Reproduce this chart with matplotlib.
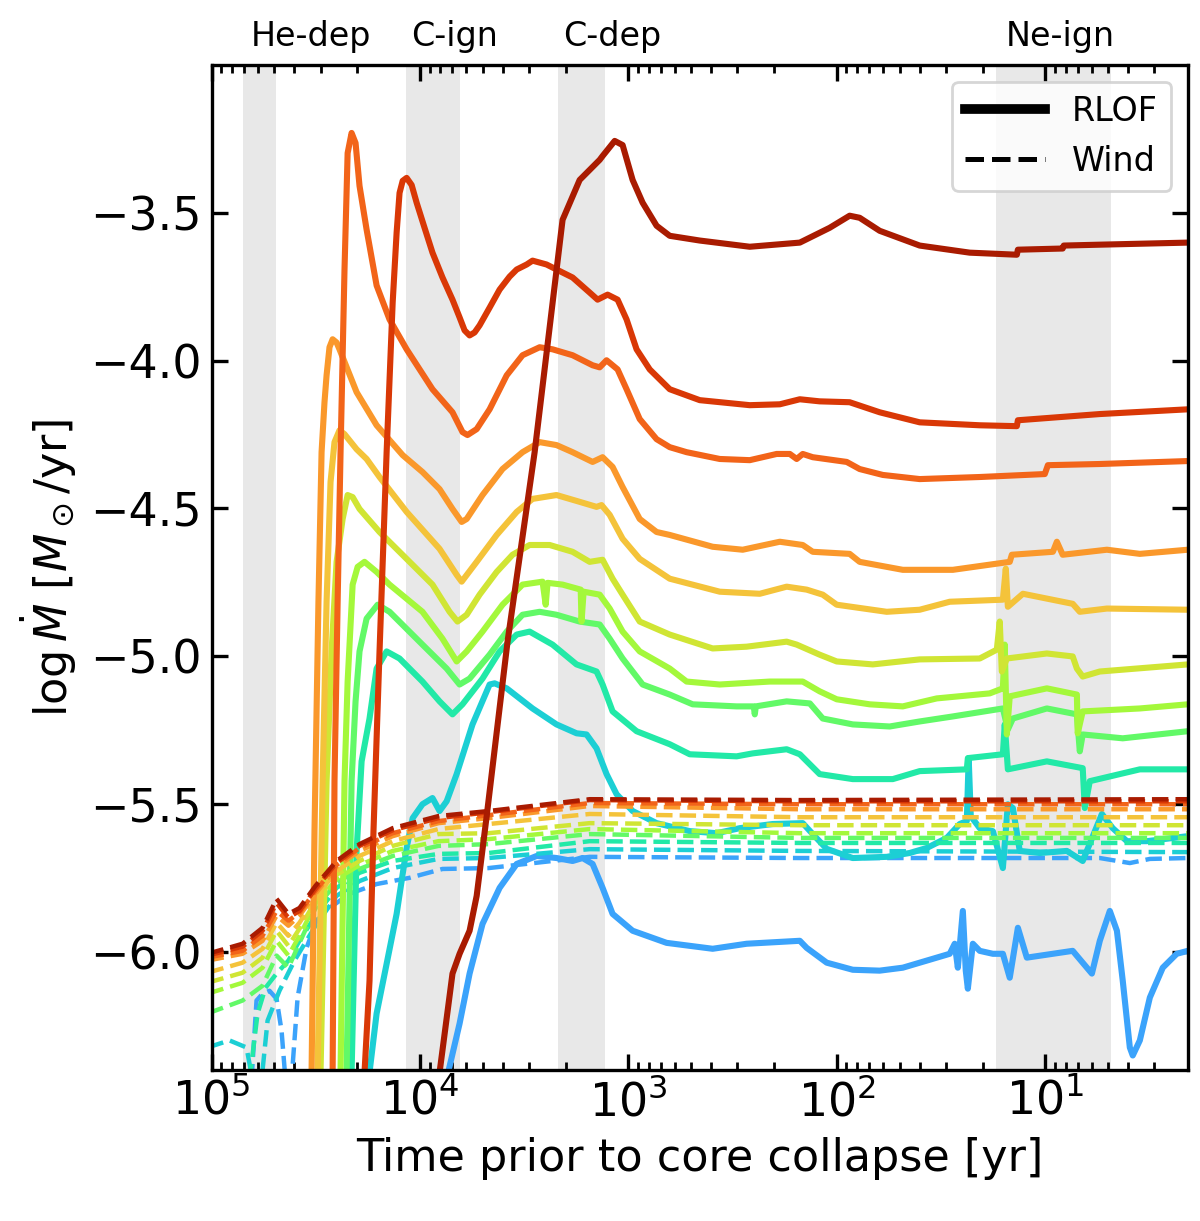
import matplotlib as mpl
mpl.use('Agg')  # headless
import matplotlib.pyplot as plt
from matplotlib.lines import Line2D
import numpy as np

# log10(time before collapse / yr) and log10(Mdot) for each model, blue (1) -> dark red (11)
# RLOF (solid)
lt_r1 = [3.868, 3.810, 3.762, 3.700, 3.618, 3.536, 3.440, 3.345, 3.268, 3.220, 3.172, 3.124, 3.076, 2.980,
         2.817, 2.596, 2.433, 2.178, 2.145, 2.049, 1.924, 1.795, 1.684, 1.569, 1.459, 1.435, 1.420, 1.396,
         1.382, 1.372, 1.348, 1.315, 1.252, 1.204, 1.171, 1.132, 1.089, 0.869, 0.777, 0.739, 0.691, 0.657,
         0.629, 0.595, 0.581, 0.547, 0.499, 0.437, 0.370, 0.317]
lm_r1 = [-6.418, -6.243, -6.074, -5.906, -5.784, -5.703, -5.676, -5.683, -5.693, -5.683, -5.703, -5.784,
         -5.872, -5.929, -5.970, -5.990, -5.973, -5.963, -5.987, -6.037, -6.061, -6.064, -6.054, -6.030,
         -6.007, -5.973, -6.054, -5.862, -6.064, -6.125, -5.973, -5.997, -6.007, -6.007, -6.088, -5.919,
         -6.020, -5.997, -6.074, -5.963, -5.862, -5.929, -6.098, -6.324, -6.351, -6.300, -6.155, -6.054,
         -6.007, -5.997]

lt_r2 = [4.242, 4.208, 4.160, 4.112, 4.064, 4.035, 3.988, 3.940, 3.906, 3.872, 3.824, 3.748, 3.666, 3.642,
         3.584, 3.460, 3.345, 3.249, 3.201, 3.153, 3.105, 3.057, 2.980, 2.865, 2.706, 2.577, 2.466, 2.308,
         2.164, 2.116, 2.049, 1.924, 1.761, 1.651, 1.569, 1.473, 1.411, 1.377, 1.368, 1.358, 1.315, 1.252,
         1.204, 1.180, 1.156, 1.123, 1.027, 0.897, 0.821, 0.729, 0.677, 0.609, 0.513, 0.317]
lm_r2 = [-6.408, -6.209, -6.041, -5.872, -5.649, -5.548, -5.501, -5.480, -5.524, -5.491, -5.399, -5.231,
         -5.096, -5.092, -5.109, -5.177, -5.231, -5.261, -5.265, -5.312, -5.399, -5.467, -5.524, -5.565,
         -5.592, -5.599, -5.582, -5.568, -5.565, -5.602, -5.652, -5.683, -5.679, -5.666, -5.649, -5.615,
         -5.568, -5.558, -5.345, -5.541, -5.582, -5.592, -5.717, -5.501, -5.514, -5.659, -5.666, -5.659,
         -5.693, -5.534, -5.582, -5.626, -5.626, -5.609]

lt_r3 = [4.328, 4.304, 4.280, 4.242, 4.208, 4.160, 4.098, 3.988, 3.906, 3.844, 3.796, 3.700, 3.618, 3.536,
         3.474, 3.364, 3.249, 3.153, 3.124, 3.076, 2.961, 2.802, 2.706, 2.481, 2.404, 2.241, 2.178, 2.083,
         1.924, 1.732, 1.603, 1.377, 1.372, 1.204, 1.195, 1.180, 0.993, 0.821, 0.811, 0.787, 0.547, 0.317]
lm_r3 = [-6.408, -5.659, -5.356, -5.211, -5.042, -4.984, -5.008, -5.086, -5.153, -5.197, -5.163, -5.076,
         -4.984, -4.927, -4.917, -4.961, -5.028, -5.052, -5.096, -5.187, -5.254, -5.298, -5.332, -5.339,
         -5.329, -5.315, -5.332, -5.399, -5.416, -5.416, -5.389, -5.383, -5.345, -5.332, -5.231, -5.383,
         -5.356, -5.379, -5.514, -5.423, -5.383, -5.383]

lt_r4 = [4.352, 4.328, 4.309, 4.290, 4.256, 4.203, 4.146, 3.988, 3.872, 3.810, 3.762, 3.666, 3.584, 3.508,
         3.426, 3.345, 3.234, 3.138, 3.090, 3.028, 2.932, 2.802, 2.692, 2.481, 2.399, 2.394, 2.389, 2.241,
         2.130, 2.068, 1.924, 1.747, 1.603, 1.444, 1.204, 1.180, 1.156, 0.993, 0.849, 0.835, 0.821, 0.629,
         0.317]
lm_r4 = [-6.408, -5.423, -5.153, -4.984, -4.873, -4.826, -4.850, -4.961, -5.042, -5.096, -5.076, -4.995,
         -4.917, -4.860, -4.850, -4.860, -4.883, -4.893, -4.941, -5.008, -5.096, -5.130, -5.163, -5.170,
         -5.170, -5.197, -5.170, -5.153, -5.160, -5.211, -5.231, -5.238, -5.221, -5.204, -5.177, -5.248,
         -5.211, -5.177, -5.197, -5.322, -5.265, -5.278, -5.254]

lt_r5 = [4.381, 4.362, 4.347, 4.323, 4.299, 4.266, 4.208, 4.146, 3.988, 3.892, 3.824, 3.776, 3.700, 3.604,
         3.508, 3.412, 3.397, 3.388, 3.316, 3.229, 3.225, 3.215, 3.138, 3.090, 3.028, 2.946, 2.802, 2.721,
         2.562, 2.322, 2.164, 2.083, 2.001, 1.843, 1.684, 1.521, 1.267, 1.204, 1.195, 1.185, 1.171, 0.993,
         0.849, 0.845, 0.821, 0.547, 0.317]
lm_r5 = [-6.408, -5.423, -5.086, -4.758, -4.698, -4.681, -4.715, -4.758, -4.850, -4.941, -5.018, -4.984,
         -4.917, -4.826, -4.758, -4.748, -4.826, -4.752, -4.758, -4.775, -4.883, -4.782, -4.792, -4.839,
         -4.917, -4.984, -5.042, -5.086, -5.096, -5.086, -5.086, -5.119, -5.146, -5.163, -5.170, -5.143,
         -5.126, -5.109, -4.961, -5.265, -5.136, -5.109, -5.130, -5.261, -5.187, -5.177, -5.163]

lt_r6 = [4.477, 4.448, 4.424, 4.400, 4.371, 4.347, 4.323, 4.290, 4.194, 4.064, 3.940, 3.858, 3.820, 3.776,
         3.714, 3.632, 3.556, 3.474, 3.378, 3.268, 3.186, 3.124, 3.076, 3.028, 2.946, 2.802, 2.596, 2.433,
         2.241, 2.193, 2.083, 2.001, 1.828, 1.603, 1.315, 1.233, 1.219, 1.209, 1.185, 0.993, 0.869, 0.849,
         0.821, 0.739, 0.317]
lm_r6 = [-6.408, -5.423, -4.984, -4.681, -4.536, -4.455, -4.462, -4.502, -4.580, -4.671, -4.758, -4.850,
         -4.883, -4.860, -4.792, -4.715, -4.657, -4.624, -4.624, -4.647, -4.681, -4.674, -4.738, -4.792,
         -4.883, -4.927, -4.974, -4.968, -4.951, -4.961, -4.995, -5.018, -5.028, -5.011, -5.008, -4.978,
         -4.883, -5.052, -5.008, -4.991, -5.001, -5.042, -5.069, -5.052, -5.028]

lt_r7 = [4.491, 4.467, 4.448, 4.429, 4.410, 4.386, 4.362, 4.304, 4.256, 4.194, 4.064, 3.906, 3.824, 3.800,
         3.728, 3.632, 3.536, 3.460, 3.345, 3.234, 3.153, 3.129, 3.090, 3.028, 2.946, 2.802, 2.562, 2.370,
         2.241, 2.145, 2.068, 2.001, 1.761, 1.603, 1.459, 1.204, 1.190, 1.180, 1.108, 0.869, 0.835, 0.705,
         0.317]
lm_r7 = [-6.408, -5.423, -4.816, -4.411, -4.276, -4.236, -4.249, -4.300, -4.333, -4.394, -4.512, -4.637,
         -4.725, -4.748, -4.681, -4.590, -4.512, -4.468, -4.455, -4.478, -4.495, -4.489, -4.522, -4.603,
         -4.671, -4.738, -4.782, -4.789, -4.765, -4.775, -4.792, -4.826, -4.850, -4.843, -4.816, -4.809,
         -4.704, -4.833, -4.789, -4.823, -4.850, -4.839, -4.843]

lt_r8 = [4.520, 4.506, 4.487, 4.472, 4.458, 4.448, 4.434, 4.419, 4.400, 4.386, 4.304, 4.208, 4.083, 3.988,
         3.906, 3.844, 3.800, 3.776, 3.700, 3.604, 3.508, 3.426, 3.345, 3.268, 3.172, 3.124, 3.076, 3.028,
         2.946, 2.865, 2.802, 2.596, 2.452, 2.274, 2.164, 2.116, 1.939, 1.891, 1.684, 1.444, 1.171, 1.161,
         0.964, 0.945, 0.917, 0.705, 0.547, 0.317]
lm_r8 = [-6.408, -5.592, -4.816, -4.310, -4.141, -4.050, -3.955, -3.928, -3.939, -3.962, -4.107, -4.219,
         -4.320, -4.377, -4.435, -4.502, -4.546, -4.536, -4.455, -4.367, -4.310, -4.276, -4.286, -4.310,
         -4.343, -4.327, -4.360, -4.428, -4.536, -4.580, -4.590, -4.630, -4.640, -4.613, -4.624, -4.647,
         -4.654, -4.681, -4.708, -4.708, -4.681, -4.657, -4.647, -4.613, -4.657, -4.640, -4.654, -4.640]

lt_r9 = [4.419, 4.410, 4.395, 4.381, 4.362, 4.347, 4.328, 4.309, 4.290, 4.256, 4.208, 4.146, 4.064, 3.940,
         3.844, 3.796, 3.772, 3.728, 3.666, 3.584, 3.508, 3.426, 3.364, 3.268, 3.172, 3.138, 3.105, 3.052,
         3.009, 2.946, 2.865, 2.802, 2.721, 2.562, 2.418, 2.289, 2.226, 2.193, 2.164, 2.116, 1.953, 1.891,
         1.780, 1.603, 1.315, 1.003, 0.988, 0.739, 0.317]
lm_r9 = [-6.408, -5.423, -4.816, -4.310, -3.692, -3.298, -3.230, -3.264, -3.409, -3.557, -3.746, -3.861,
         -3.962, -4.097, -4.175, -4.242, -4.252, -4.232, -4.165, -4.050, -3.982, -3.955, -3.962, -3.982,
         -4.016, -4.023, -3.999, -4.030, -4.097, -4.198, -4.266, -4.293, -4.310, -4.333, -4.337, -4.316,
         -4.316, -4.333, -4.316, -4.327, -4.343, -4.367, -4.387, -4.401, -4.394, -4.384, -4.354, -4.350,
         -4.340]

lt_r10 = [4.266, 4.242, 4.223, 4.194, 4.160, 4.131, 4.112, 4.098, 4.083, 4.064, 4.040, 4.016, 3.978, 3.940,
          3.892, 3.844, 3.810, 3.786, 3.762, 3.738, 3.714, 3.666, 3.618, 3.570, 3.536, 3.488, 3.460, 3.393,
          3.345, 3.268, 3.186, 3.148, 3.100, 3.052, 3.009, 2.961, 2.898, 2.802, 2.658, 2.418, 2.274, 2.178,
          2.083, 1.939, 1.795, 1.603, 1.315, 1.137, 1.132, 0.739, 0.317]
lm_r10 = [-6.408, -6.098, -5.592, -4.984, -4.310, -3.804, -3.567, -3.433, -3.392, -3.382, -3.406, -3.466,
          -3.551, -3.635, -3.719, -3.794, -3.854, -3.898, -3.915, -3.905, -3.881, -3.821, -3.760, -3.716,
          -3.692, -3.675, -3.662, -3.675, -3.692, -3.719, -3.770, -3.794, -3.777, -3.794, -3.861, -3.962,
          -4.030, -4.097, -4.134, -4.151, -4.148, -4.131, -4.138, -4.141, -4.175, -4.209, -4.219, -4.222,
          -4.202, -4.181, -4.165]

lt_r11 = [3.910, 3.844, 3.810, 3.762, 3.728, 3.680, 3.580, 3.450, 3.316, 3.234, 3.138, 3.124, 3.066, 3.028,
          2.980, 2.932, 2.865, 2.802, 2.658, 2.418, 2.178, 2.035, 1.939, 1.891, 1.795, 1.603, 1.363, 1.137,
          1.132, 0.917, 0.912, 0.739, 0.317]
lm_r11 = [-6.430, -6.074, -6.007, -5.929, -5.811, -5.541, -4.951, -4.310, -3.524, -3.389, -3.321, -3.308,
          -3.257, -3.271, -3.389, -3.466, -3.544, -3.578, -3.594, -3.615, -3.601, -3.551, -3.510, -3.517,
          -3.561, -3.611, -3.635, -3.642, -3.625, -3.621, -3.611, -3.608, -3.601]

# Wind (dashed)
lt_wind = [5.019, 4.851, 4.755, 4.688, 4.631, 4.578, 4.501, 4.400, 4.290, 4.131, 3.911, 3.671, 3.186,
           2.178, 0.317]
lm_w11 = [-6.007, -5.973, -5.919, -5.821, -5.872, -5.852, -5.777, -5.693, -5.636, -5.582, -5.541, -5.524,
          -5.484, -5.487, -5.484]
lm_w10 = [-6.013, -5.983, -5.929, -5.835, -5.885, -5.862, -5.787, -5.700, -5.642, -5.589, -5.548, -5.528,
          -5.487, -5.491, -5.491]
lm_w9 = [-6.020, -5.997, -5.946, -5.862, -5.895, -5.868, -5.794, -5.707, -5.649, -5.599, -5.558, -5.538,
         -5.497, -5.501, -5.501]
lm_w8 = [-6.030, -6.007, -5.963, -5.878, -5.912, -5.878, -5.804, -5.713, -5.659, -5.609, -5.565, -5.548,
         -5.507, -5.518, -5.518]
lm_w7 = [-6.071, -6.037, -5.990, -5.902, -5.946, -5.902, -5.818, -5.727, -5.676, -5.626, -5.585, -5.568,
         -5.534, -5.545, -5.545]
lm_w6 = [-6.105, -6.071, -6.020, -5.929, -5.980, -5.922, -5.828, -5.740, -5.693, -5.642, -5.602, -5.599,
         -5.565, -5.572, -5.572]
lm_w5 = [-6.142, -6.105, -6.054, -5.963, -6.013, -5.946, -5.838, -5.754, -5.707, -5.659, -5.626, -5.619,
         -5.585, -5.599, -5.599]
lm_w4 = [-6.209, -6.165, -6.115, -6.013, -6.054, -5.970, -5.852, -5.767, -5.720, -5.676, -5.642, -5.636,
         -5.602, -5.615, -5.615]
lt_w3 = [4.818, 4.779, 4.741, 4.688, 4.631, 4.578, 4.501, 4.400, 4.290, 4.131, 3.911, 3.671, 3.186,
         2.178, 0.317]
lm_w3 = [-6.435, -6.209, -6.122, -6.074, -6.030, -5.963, -5.878, -5.784, -5.733, -5.693, -5.669, -5.666,
         -5.626, -5.632, -5.632]
lt_w2 = [5.019, 4.914, 4.832, 4.803, 4.760, 4.731, 4.674, 4.602, 4.501, 4.400, 4.290, 4.131, 3.911,
         3.671, 3.186, 2.178, 0.317]
lm_w2 = [-6.324, -6.300, -6.324, -6.435, -6.435, -6.233, -6.132, -6.030, -5.912, -5.811, -5.761, -5.717,
         -5.686, -5.683, -5.653, -5.659, -5.663]
lt_w1 = [4.808, 4.784, 4.755, 4.722, 4.688, 4.664, 4.645, 4.616, 4.587, 4.544, 4.496, 4.434, 4.338,
         4.208, 4.050, 3.892, 3.671, 3.186, 2.178, 0.739, 0.595, 0.499, 0.317]
lm_w1 = [-6.435, -6.165, -6.142, -6.132, -6.159, -6.267, -6.435, -6.435, -6.155, -5.987, -5.895, -5.852,
         -5.804, -5.771, -5.750, -5.720, -5.717, -5.679, -5.683, -5.683, -5.700, -5.686, -5.683]

# burning phases (yr before collapse)
phase_names = ['He-dep', 'C-ign', 'C-dep', 'Ne-ign']
phase_lo = [4.9e4, 6.46e3, 1.29e3, 4.85]
phase_hi = [7.1e4, 1.17e4, 2.17e3, 17.3]
phase_label_t = [3.35e4, 6.8e3, 1.19e3, 8.5]

y_ticks = [-6.0, -5.5, -5.0, -4.5, -4.0, -3.5]

colors = ['#3ba3fb', '#1ccfd4', '#22e9a7', '#62f967', '#a4f83b', '#d0e534',
          '#f4c33a', '#fa982b', '#f26419', '#d93806', '#a91b01']

rlof = [(lt_r1, lm_r1), (lt_r2, lm_r2), (lt_r3, lm_r3), (lt_r4, lm_r4), (lt_r5, lm_r5), (lt_r6, lm_r6),
        (lt_r7, lm_r7), (lt_r8, lm_r8), (lt_r9, lm_r9), (lt_r10, lm_r10), (lt_r11, lm_r11)]
wind = [(lt_w1, lm_w1), (lt_w2, lm_w2), (lt_w3, lm_w3), (lt_wind, lm_w4), (lt_wind, lm_w5),
        (lt_wind, lm_w6), (lt_wind, lm_w7), (lt_wind, lm_w8), (lt_wind, lm_w9), (lt_wind, lm_w10),
        (lt_wind, lm_w11)]

plt.rcParams['font.family'] = 'DejaVu Sans'
plt.rcParams['axes.linewidth'] = 1.2

fig = plt.figure(figsize=(6, 6.105), dpi=200)
ax = fig.add_axes([0.17625, 0.1237, 0.81375, 0.8231])

# shaded burning phases and their labels above the frame
for lo, hi in zip(phase_lo, phase_hi):
    ax.axvspan(lo, hi, color='#e8e8e8', lw=0, zorder=0)
for name, t in zip(phase_names, phase_label_t):
    ax.text(t, 1.028, name, transform=ax.get_xaxis_transform(), ha='center', va='center', fontsize=12)

for (lt_r, lm_r), (lt_w, lm_w), c in zip(rlof, wind, colors):
    ax.plot(10 ** np.array(lt_r), lm_r, color=c, lw=2.2, solid_joinstyle='round')
    ax.plot(10 ** np.array(lt_w), lm_w, color=c, lw=1.6, ls='--')

ax.set_xscale('log')
ax.set_xlim(1e5, 2.07)
ax.set_ylim(-6.4, -3.0)
ax.set_yticks(y_ticks)

ax.tick_params(which='both', direction='in', top=True, right=True, labelsize=16.5)
ax.tick_params(which='major', length=5.6, width=1.2)
ax.tick_params(which='minor', length=2.9, width=1.0)

ax.set_xlabel('Time prior to core collapse [yr]', fontsize=16)
ax.set_ylabel(r'$\log\dot{M}\ [M_\odot/\mathrm{yr}]$', fontsize=16)

handles = [Line2D([], [], color='k', lw=3.5), Line2D([], [], color='k', lw=1.8, ls='--')]
ax.legend(handles, ['RLOF', 'Wind'], loc='upper right', fontsize=12, handlelength=2.4)

fig.savefig('out.png', dpi=200)
